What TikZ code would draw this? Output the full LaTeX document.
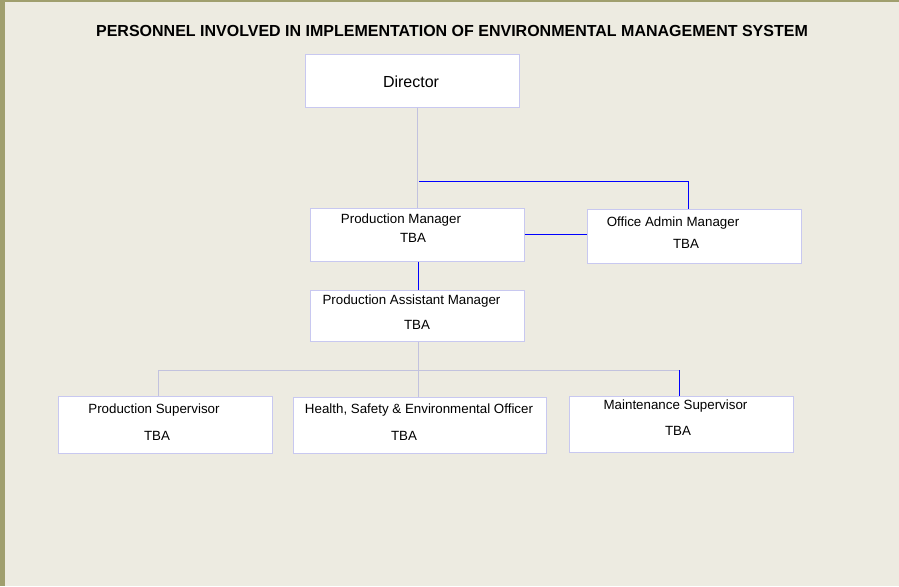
\documentclass[tikz,border=0pt]{standalone}
\usepackage{fontspec}
\setmainfont{Liberation Sans}
\usetikzlibrary{positioning}
\definecolor{pagebg}{HTML}{EDEBE1}
\definecolor{edgeolive}{HTML}{A09F6E}
\definecolor{boxline}{HTML}{C8C8F0}
\definecolor{linkblue}{HTML}{0000FF}
\definecolor{linkgrey}{HTML}{C2C2DE}

\begin{document}
\begin{tikzpicture}[
  x=0.75pt, y=-0.75pt,
  post/.style={draw=boxline, fill=white, line width=0.75pt, inner sep=0pt, minimum width=160.5pt},
  txt/.style={font=\fontsize{10}{12}\selectfont, inner sep=0pt},
  blueln/.style={draw=linkblue, line width=0.75pt},
  greyln/.style={draw=linkgrey, line width=0.75pt}
]
  % page
  \fill[pagebg] (0,0) rectangle (899,586);
  \fill[edgeolive] (0,0) rectangle (5,586);
  \fill[edgeolive] (0,0) rectangle (899,2);
  \useasboundingbox (0,0) rectangle (899,586);

  \node[font=\bfseries\fontsize{12}{14}\selectfont] (title) at (452,31)
    {PERSONNEL INVOLVED IN IMPLEMENTATION OF ENVIRONMENTAL MANAGEMENT SYSTEM};

  % boxes
  \node[post, minimum height=39.75pt] (dir) at (412,80.5) {};
  \node[post, minimum height=39.75pt] (pm) at (417,234.5) {};
  \node[post, minimum height=40.5pt] (oam) at (694,236) {};
  \node[post, minimum height=38.25pt] (pam) at (417,315.5) {};
  \node[post, minimum height=42.75pt] (ps) at (165,424.5) {};
  \node[post, minimum width=189.75pt, minimum height=42pt] (hse) at (419.5,425) {};
  \node[post, minimum width=168pt, minimum height=42pt] (ms) at (681,424) {};

  % labels
  \node[font=\fontsize{12}{14}\selectfont, inner sep=0pt] (dirname) at (411,82) {Director};
  \node[txt] (pmname) at (401,220) {Production Manager};
  \node[txt] (pmtba) at (413,238) {TBA};
  \node[txt] (oamname) at (673,223) {Office Admin Manager};
  \node[txt] (oamtba) at (686,244) {TBA};
  \node[txt] (pamname) at (411.5,301) {Production Assistant Manager};
  \node[txt] (pamtba) at (417,325) {TBA};
  \node[txt] (psname) at (154,410) {Production Supervisor};
  \node[txt] (pstba) at (157,436) {TBA};
  \node[txt] (hsename) at (419,410) {Health, Safety \& Environmental Officer};
  \node[txt] (hsetba) at (404,436) {TBA};
  \node[txt] (msname) at (675.5,406) {Maintenance Supervisor};
  \node[txt] (mstba) at (678,431) {TBA};

  % connectors
  \coordinate (jn) at (419,181);
  \coordinate (oamtap) at (688,209);
  \coordinate (busL) at (158,370);
  \coordinate (busR) at (679,370);

  \draw[greyln] (pm.north |- dir.south) -- (pm.north);
  \draw[blueln] (jn) -| (oamtap);
  \draw[blueln] (pm.east) -- (pm.east -| oam.west);
  \draw[blueln] ([xshift=1]pm.south) -- ([xshift=1]pam.north);
  \draw[greyln] ([xshift=1]pam.south) -- ([xshift=1]pam.south |- hse.north);
  \draw[greyln] (busL |- ps.north) -- (busL) -- (busR);
  \draw[blueln] (busR) -- (busR |- ms.north);
\end{tikzpicture}
\end{document}
